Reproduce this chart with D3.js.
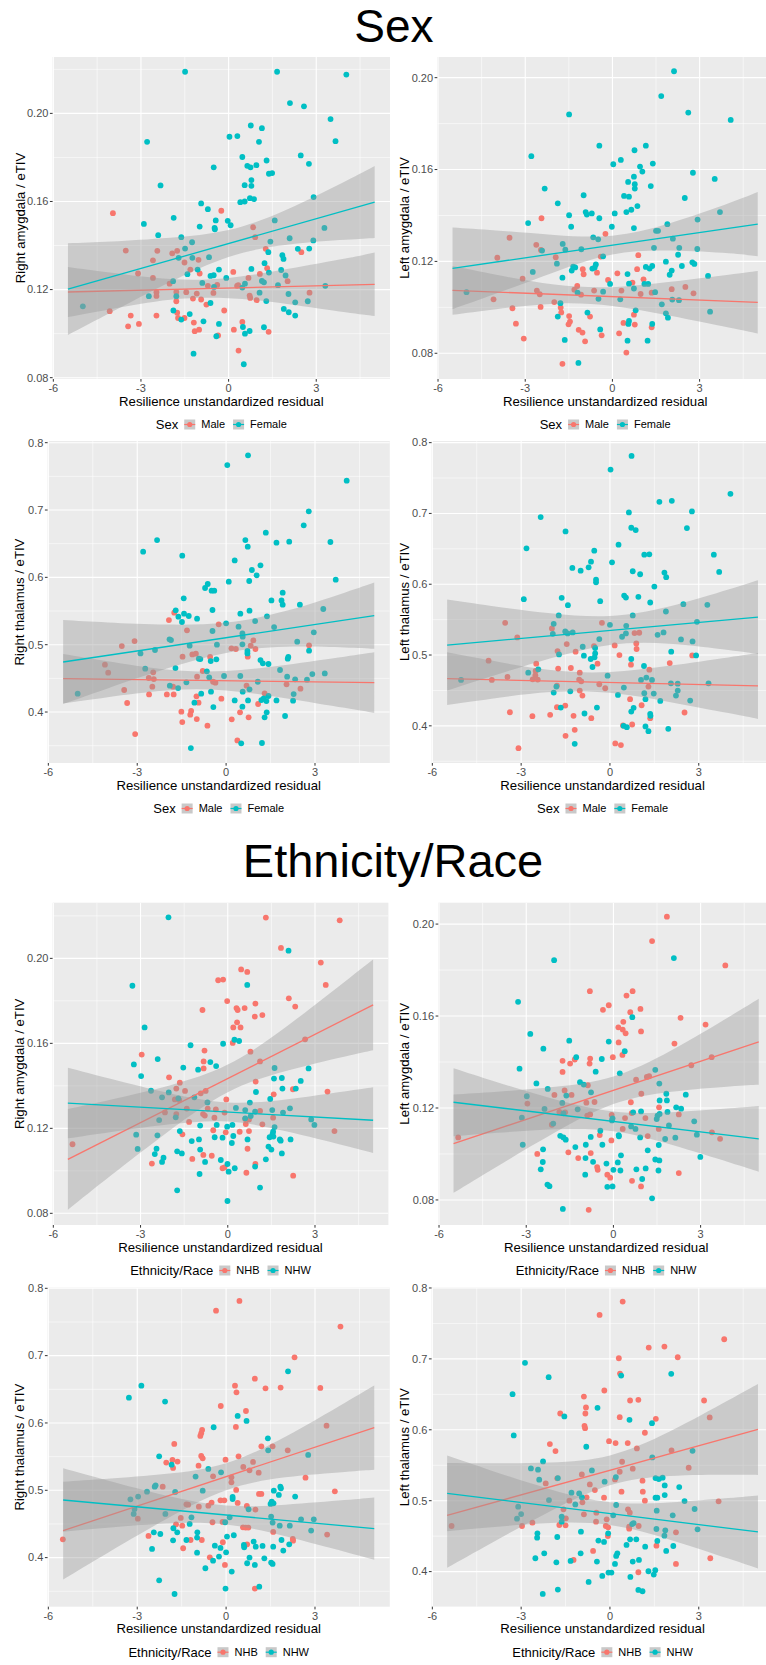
<!DOCTYPE html>
<html><head><meta charset="utf-8">
<script src="https://cdn.jsdelivr.net/npm/d3@7"></script>
<style>body{margin:0;background:#fff}svg{display:block;font-family:"Liberation Sans",Arial,sans-serif}</style>
</head><body><svg id="c" width="766" height="1665"></svg>
<script>
// ---------------- DATA ----------------
const sexGroups = ["Male", "Female"];
const raceGroups = ["NHB", "NHW"];
const xTicks = [-6, -3, 0, 3];
const xMinor = [-4.5, -1.5, 1.5, 4.5];
const xTickLabels = ["-6", "-3", "0", "3"];
const amygTicks = [0.08, 0.12, 0.16, 0.20];
const amygMinor = [0.06, 0.10, 0.14, 0.18, 0.22];
const amygTickLabels = ["0.08", "0.12", "0.16", "0.20"];
const thalTicks = [0.4, 0.5, 0.6, 0.7, 0.8];
const thalMinor = [0.35, 0.45, 0.55, 0.65, 0.75];
const thalTickLabels = ["0.4", "0.5", "0.6", "0.7", "0.8"];
const fitX = [-5.5, 5];
const bandX = [-5.5, -4, -2, 0, 2, 4, 5];

// Panel 1: Right amygdala, Sex
const p1Male = [[-3.96,0.1547],[-0.25,0.1558],[0.84,0.1483],[0.91,0.1438],[-3.52,0.1377],[-2.44,0.1376],[-1.93,0.1364],[-1.76,0.1376],[-2.59,0.1333],[-1.51,0.1323],[-1.03,0.1335],[1.27,0.1385],[1.32,0.1297],[2.49,0.1370],[-1.31,0.1291],[-3.10,0.1273],[-0.99,0.1273],[0.16,0.1280],[0.68,0.1253],[1.07,0.1271],[-2.59,0.1253],[-2.02,0.1227],[2.02,0.1238],[-0.71,0.1217],[-0.39,0.1221],[0.29,0.1217],[0.33,0.1220],[-1.79,0.1189],[-2.47,0.1188],[-2.47,0.1171],[-1.45,0.1188],[-1.09,0.1182],[-0.52,0.1185],[0.72,0.1173],[0.74,0.1162],[2.77,0.1186],[0.96,0.1152],[-1.22,0.1159],[-0.94,0.1155],[-1.79,0.1147],[-0.76,0.1132],[-0.15,0.1105],[-4.07,0.1102],[-1.76,0.1095],[-2.47,0.1082],[-3.35,0.1082],[-1.73,0.1071],[-1.51,0.1071],[0.47,0.1053],[-1.19,0.1050],[-3.44,0.1033],[-3.07,0.1044],[0.18,0.1018],[-1.16,0.1011],[-1.01,0.1018],[1.37,0.1008],[-0.36,0.0992],[0.34,0.0923]];
const p1Female = [[-1.49,0.2189],[1.66,0.2189],[4.03,0.2176],[2.10,0.2047],[2.58,0.2032],[3.49,0.1974],[-2.79,0.1871],[3.66,0.1874],[0.76,0.1945],[1.14,0.1933],[0.03,0.1894],[0.30,0.1897],[1.04,0.1871],[2.47,0.1809],[0.47,0.1802],[1.30,0.1786],[2.75,0.1771],[0.64,0.1762],[0.95,0.1765],[0.75,0.1755],[-0.51,0.1755],[1.38,0.1726],[1.49,0.1729],[0.78,0.1697],[0.55,0.1674],[0.78,0.1671],[-2.33,0.1673],[0.73,0.1615],[0.87,0.1611],[0.40,0.1597],[0.55,0.1600],[-0.94,0.1591],[2.91,0.1620],[-0.71,0.1565],[-1.88,0.1526],[-0.44,0.1514],[-2.90,0.1498],[-0.03,0.1512],[0.07,0.1492],[-0.48,0.1480],[-0.47,0.1474],[-0.99,0.1486],[3.28,0.1480],[-2.41,0.1447],[-1.62,0.1438],[1.58,0.1514],[2.09,0.1433],[-1.25,0.1415],[1.43,0.1418],[2.90,0.1423],[-1.49,0.1386],[2.76,0.1386],[2.37,0.1385],[1.36,0.1370],[-0.67,0.1347],[-1.71,0.1344],[1.84,0.1356],[1.88,0.1339],[-1.24,0.1344],[1.23,0.1320],[-0.33,0.1291],[-1.06,0.1291],[0.78,0.1294],[-1.41,0.1270],[1.80,0.1289],[1.38,0.1277],[-0.62,0.1262],[-0.51,0.1265],[-0.08,0.1253],[1.95,0.1264],[1.14,0.1239],[-1.90,0.1238],[0.56,0.1227],[1.21,0.1233],[-0.90,0.1230],[-0.50,0.1212],[0.47,0.1209],[1.69,0.1220],[3.31,0.1217],[1.06,0.1186],[2.05,0.1180],[-1.79,0.1170],[-2.73,0.1170],[-4.99,0.1124],[1.29,0.1148],[2.28,0.1142],[2.71,0.1147],[-0.62,0.1139],[1.89,0.1112],[2.06,0.1097],[2.28,0.1082],[-1.89,0.1105],[-1.33,0.1089],[-1.62,0.1064],[-0.86,0.1056],[-0.33,0.1044],[0.49,0.1030],[1.21,0.1029],[0.72,0.1012],[0.56,0.1000],[-0.42,0.0988],[-1.20,0.0909],[0.52,0.0861]];
const p1Fit = [[0.1189,0.1224],[0.1202,0.1597]];
const p1Lo = [[0.1075,0.1112,0.1154,0.1161,0.1135,0.1097,0.1080],[0.0994,0.1098,0.1234,0.1348,0.1404,0.1426,0.1434]];
const p1Hi = [[0.1303,0.1276,0.1248,0.1253,0.1293,0.1341,0.1368],[0.1410,0.1418,0.1435,0.1470,0.1564,0.1692,0.1761]];

// Panel 2: Left amygdala, Sex
const p2Male = [[-2.44,0.1388],[-0.24,0.1320],[-3.54,0.1303],[-2.62,0.1272],[-2.46,0.1250],[-3.96,0.1216],[-1.95,0.1218],[-0.40,0.1221],[0.89,0.1227],[-3.09,0.1125],[-1.02,0.1166],[-0.99,0.1144],[-0.53,0.1151],[0.85,0.1166],[0.17,0.1148],[-0.15,0.1119],[1.07,0.1122],[0.69,0.1108],[-1.21,0.1093],[-1.31,0.1077],[-2.60,0.1073],[-2.50,0.1057],[-1.08,0.1055],[-0.63,0.1073],[0.31,0.1073],[0.97,0.1058],[1.35,0.1064],[2.04,0.1079],[2.51,0.1089],[2.79,0.1061],[-4.09,0.1035],[-2.00,0.1023],[-2.47,0.1002],[-1.78,0.0999],[-3.44,0.0996],[-1.76,0.0978],[0.74,0.0968],[-1.49,0.0962],[-0.77,0.0960],[-1.46,0.0938],[-3.32,0.0929],[-1.51,0.0926],[0.38,0.0932],[0.77,0.0925],[-1.16,0.0902],[-1.03,0.0890],[0.23,0.0887],[1.35,0.0913],[-0.37,0.0878],[-3.05,0.0864],[-0.94,0.0852],[0.48,0.0803],[-1.72,0.0754]];
const p2Female = [[2.12,0.2028],[1.68,0.1920],[-1.49,0.1840],[2.61,0.1848],[4.07,0.1816],[-0.45,0.1704],[1.15,0.1704],[0.76,0.1684],[-2.79,0.1658],[0.29,0.1642],[0.03,0.1623],[0.95,0.1613],[1.39,0.1626],[1.03,0.1591],[2.77,0.1586],[0.74,0.1569],[0.54,0.1546],[0.77,0.1536],[0.77,0.1517],[1.32,0.1528],[3.52,0.1559],[-2.33,0.1517],[0.40,0.1485],[0.57,0.1482],[2.49,0.1476],[-0.99,0.1488],[-1.88,0.1453],[0.86,0.1441],[-0.92,0.1415],[-0.88,0.1404],[-0.71,0.1409],[0.48,0.1415],[0.65,0.1425],[0.08,0.1409],[-1.49,0.1401],[-0.45,0.1388],[3.70,0.1415],[-2.90,0.1367],[-1.42,0.1351],[-0.02,0.1351],[0.74,0.1345],[2.93,0.1382],[1.89,0.1362],[1.50,0.1333],[1.57,0.1333],[-0.66,0.1305],[-0.49,0.1296],[2.08,0.1299],[-1.71,0.1276],[1.43,0.1259],[2.30,0.1259],[-2.42,0.1247],[-1.62,0.1251],[-1.07,0.1253],[2.92,0.1254],[-0.32,0.1222],[2.26,0.1229],[1.84,0.1199],[-1.91,0.1190],[-0.57,0.1187],[2.75,0.1196],[-1.35,0.1177],[-1.28,0.1174],[-1.40,0.1160],[-0.61,0.1173],[1.37,0.1180],[1.15,0.1176],[1.28,0.1169],[2.39,0.1180],[2.82,0.1189],[-2.74,0.1154],[2.04,0.1160],[1.97,0.1142],[0.52,0.1145],[3.29,0.1137],[-1.72,0.1129],[-0.69,0.1169],[0.57,0.1103],[1.10,0.1102],[1.23,0.1102],[-0.08,0.1102],[0.74,0.1082],[-1.20,0.1064],[-0.32,0.1068],[-5.02,0.1066],[1.47,0.1066],[-0.48,0.1037],[0.27,0.1035],[2.06,0.1034],[2.29,0.1031],[-1.79,0.1018],[1.70,0.1013],[0.80,0.0987],[-0.86,0.0977],[-1.88,0.0960],[3.36,0.0981],[1.84,0.0974],[1.91,0.0955],[0.57,0.0941],[0.55,0.0928],[1.37,0.0928],[-0.42,0.0904],[-1.64,0.0858],[0.52,0.0855],[1.21,0.0855],[-1.17,0.0758]];
const p2Fit = [[0.1074,0.1022],[0.1170,0.1362]];
const p2Lo = [[0.0968,0.0992,0.1016,0.1006,0.0963,0.0912,0.0886],[0.0992,0.1060,0.1153,0.1230,0.1247,0.1235,0.1222]];
const p2Hi = [[0.1180,0.1142,0.1099,0.1088,0.1111,0.1142,0.1158],[0.1348,0.1335,0.1315,0.1312,0.1367,0.1453,0.1502]];

// Panel 3: Right thalamus, Sex
const p3Male = [[-1.75,0.5475],[-1.93,0.5366],[-0.25,0.5302],[-1.32,0.5213],[-3.09,0.5054],[-3.52,0.4980],[0.92,0.5064],[0.18,0.4946],[0.33,0.4936],[0.99,0.4936],[0.83,0.4985],[2.80,0.4990],[-1.14,0.4856],[-1.02,0.4866],[-1.47,0.4822],[0.73,0.4822],[-0.54,0.4817],[-4.09,0.4703],[-3.98,0.4584],[-0.79,0.4609],[-2.46,0.4589],[-2.61,0.4505],[-2.44,0.4490],[-0.98,0.4525],[-0.44,0.4450],[-0.36,0.4436],[-2.49,0.4376],[-1.79,0.4376],[0.69,0.4391],[2.04,0.4411],[2.51,0.4347],[-3.44,0.4327],[-2.60,0.4262],[-2.00,0.4262],[-1.77,0.4262],[-1.00,0.4233],[-0.16,0.4198],[1.30,0.4277],[-3.34,0.4134],[-0.93,0.4139],[1.08,0.4119],[-1.51,0.4005],[-1.18,0.4015],[-1.21,0.3960],[-0.99,0.3896],[0.19,0.3891],[0.76,0.3921],[0.47,0.3995],[-1.48,0.3851],[-0.63,0.3797],[-3.07,0.3673],[0.38,0.3579]];
const p3Female = [[0.74,0.7812],[0.04,0.7668],[4.07,0.7436],[2.79,0.6980],[2.62,0.6772],[1.34,0.6663],[-2.33,0.6554],[0.65,0.6554],[0.73,0.6455],[1.70,0.6515],[2.13,0.6530],[3.52,0.6525],[-2.80,0.6381],[-1.48,0.6322],[0.29,0.6252],[1.16,0.6178],[0.87,0.6109],[1.03,0.6030],[3.70,0.5965],[0.09,0.5936],[0.78,0.5946],[-0.62,0.5901],[-0.71,0.5842],[-0.49,0.5802],[-0.40,0.5802],[1.91,0.5772],[-1.43,0.5688],[1.53,0.5658],[1.87,0.5658],[1.91,0.5594],[2.49,0.5594],[-1.70,0.5510],[-0.46,0.5515],[0.79,0.5505],[3.28,0.5530],[-1.42,0.5460],[0.48,0.5460],[-1.61,0.5416],[-1.26,0.5426],[1.38,0.5421],[-0.98,0.5386],[-1.49,0.5337],[0.98,0.5351],[0.00,0.5317],[0.42,0.5267],[1.62,0.5262],[-0.46,0.5203],[0.55,0.5168],[2.96,0.5183],[0.56,0.5119],[-1.91,0.5079],[-1.86,0.5069],[2.40,0.5045],[-2.40,0.4921],[-1.23,0.4985],[-0.31,0.5000],[0.55,0.5005],[-2.89,0.4871],[0.72,0.4906],[0.72,0.4871],[2.80,0.4911],[-0.92,0.4792],[-0.87,0.4787],[-0.52,0.4757],[-0.33,0.4782],[1.16,0.4772],[1.24,0.4723],[1.43,0.4713],[2.10,0.4817],[2.08,0.4792],[-2.73,0.4644],[-1.71,0.4653],[-0.65,0.4604],[1.82,0.4624],[3.33,0.4574],[2.91,0.4564],[-0.07,0.4535],[-0.57,0.4515],[0.48,0.4535],[2.06,0.4525],[2.33,0.4485],[2.73,0.4480],[-1.34,0.4441],[1.07,0.4450],[-1.90,0.4391],[-1.62,0.4356],[0.79,0.4337],[0.56,0.4302],[-0.51,0.4302],[-0.84,0.4272],[-1.07,0.4139],[0.29,0.4173],[0.74,0.4173],[1.19,0.4178],[1.27,0.4203],[1.43,0.4238],[1.70,0.4173],[2.26,0.4168],[2.28,0.4267],[1.36,0.4163],[-0.43,0.4074],[0.55,0.4079],[1.37,0.3995],[1.30,0.3921],[1.99,0.3941],[0.51,0.3535],[1.21,0.3540],[-1.19,0.3465],[-5.01,0.4272]];
const p3Fit = [[0.4495,0.4436],[0.4743,0.5431]];
const p3Lo = [[0.4129,0.4221,0.4321,0.4320,0.4206,0.4062,0.3986],[0.4119,0.4351,0.4645,0.4878,0.4969,0.4957,0.4938]];
const p3Hi = [[0.4861,0.4753,0.4631,0.4608,0.4700,0.4822,0.4886],[0.5367,0.5331,0.5299,0.5328,0.5499,0.5773,0.5924]];

// Panel 4: Left thalamus, Sex
const p4Male = [[-3.54,0.5455],[-0.27,0.5455],[-1.96,0.5376],[-3.13,0.5249],[-1.46,0.5155],[0.16,0.5136],[-1.77,0.5056],[-1.16,0.5047],[0.32,0.5000],[0.89,0.5164],[0.99,0.5315],[0.83,0.5310],[0.90,0.5085],[2.78,0.4995],[-4.10,0.4920],[-2.49,0.4878],[-0.42,0.4878],[-1.75,0.4808],[-1.32,0.4817],[-0.54,0.5127],[0.71,0.4864],[2.02,0.4887],[1.33,0.4793],[-2.51,0.4775],[-1.02,0.4751],[-2.52,0.4714],[-3.99,0.4648],[-3.46,0.4690],[-2.61,0.4657],[-2.44,0.4653],[-1.04,0.4653],[-0.97,0.4629],[-1.79,0.4568],[-0.36,0.4587],[-0.16,0.4531],[1.30,0.4554],[-1.02,0.4498],[-0.93,0.4427],[0.68,0.4376],[-1.79,0.4263],[-1.51,0.4286],[1.07,0.4291],[-3.38,0.4192],[-2.62,0.4136],[-2.02,0.4155],[-1.23,0.4141],[-0.63,0.4108],[1.36,0.4108],[2.52,0.4188],[0.44,0.4005],[0.75,0.4019],[-1.19,0.3944],[-1.50,0.3859],[0.18,0.3751],[0.37,0.3728],[-3.09,0.3685]];
const p4Female = [[0.73,0.7812],[0.02,0.7620],[4.07,0.7277],[1.67,0.7164],[2.09,0.7178],[2.77,0.7028],[0.64,0.7014],[-2.34,0.6948],[0.72,0.6798],[0.87,0.6765],[2.60,0.6793],[-1.50,0.6746],[0.29,0.6559],[-2.82,0.6507],[-0.53,0.6474],[1.16,0.6418],[1.33,0.6423],[3.51,0.6418],[-0.64,0.6319],[0.07,0.6310],[-0.72,0.6239],[-1.27,0.6230],[-0.99,0.6192],[0.77,0.6183],[1.84,0.6164],[3.69,0.6174],[1.02,0.6141],[1.90,0.6099],[-0.47,0.6066],[-0.47,0.6028],[1.50,0.5967],[-2.91,0.5789],[-1.63,0.5808],[0.48,0.5840],[0.54,0.5812],[0.96,0.5822],[-0.33,0.5761],[-1.42,0.5704],[1.36,0.5742],[2.48,0.5718],[3.29,0.5709],[-1.73,0.5559],[0.77,0.5559],[1.89,0.5615],[2.94,0.5469],[-1.90,0.5441],[0.00,0.5427],[0.55,0.5413],[-1.51,0.5333],[-1.26,0.5319],[-1.43,0.5305],[-1.93,0.5300],[0.54,0.5305],[0.41,0.5258],[1.61,0.5286],[1.81,0.5319],[-0.36,0.5225],[2.40,0.5221],[2.79,0.5192],[-0.92,0.5117],[-0.50,0.5099],[-0.88,0.4991],[-0.50,0.5023],[-0.52,0.4967],[-0.65,0.4944],[2.91,0.4995],[0.72,0.4944],[2.07,0.5047],[-1.72,0.5009],[-0.59,0.4831],[1.15,0.4845],[-2.42,0.4798],[-2.76,0.4751],[-0.08,0.4709],[-5.03,0.4648],[1.05,0.4648],[1.23,0.4681],[1.42,0.4648],[2.06,0.4601],[2.29,0.4596],[3.33,0.4601],[-1.81,0.4554],[0.47,0.4540],[2.29,0.4498],[-1.90,0.4469],[-1.34,0.4488],[0.27,0.4437],[1.16,0.4460],[1.48,0.4455],[2.23,0.4427],[1.20,0.4376],[1.70,0.4352],[2.71,0.4357],[0.80,0.4254],[0.72,0.4202],[-1.66,0.4258],[-0.44,0.4258],[-0.86,0.4174],[1.36,0.4169],[1.37,0.4141],[1.20,0.3991],[1.30,0.3925],[0.46,0.4000],[0.57,0.3981],[1.97,0.3958],[-1.19,0.3746]];
const p4Fit = [[0.4667,0.4563],[0.5141,0.5535]];
const p4Lo = [[0.4294,0.4383,0.4477,0.4467,0.4338,0.4180,0.4098],[0.4498,0.4700,0.4955,0.5143,0.5160,0.5070,0.5014]];
const p4Hi = [[0.5040,0.4921,0.4787,0.4760,0.4848,0.4966,0.5028],[0.5784,0.5694,0.5589,0.5551,0.5684,0.5924,0.6056]];

// Panel 5: Right amygdala, Ethnicity/Race
const p5NHB = [[1.31,0.2192],[3.85,0.2179],[1.83,0.2049],[3.20,0.1980],[0.46,0.1948],[0.67,0.1936],[-0.33,0.1897],[-0.16,0.1900],[3.37,0.1875],[2.10,0.1812],[2.32,0.1773],[-0.02,0.1799],[0.95,0.1787],[-0.87,0.1757],[0.30,0.1766],[0.34,0.1757],[0.58,0.1766],[0.93,0.1726],[1.19,0.1733],[0.32,0.1699],[0.19,0.1675],[0.44,0.1675],[0.17,0.1602],[2.66,0.1619],[-0.80,0.1566],[0.78,0.1561],[-2.96,0.1547],[-0.83,0.1515],[1.11,0.1515],[-0.83,0.1482],[-2.02,0.1440],[-1.65,0.1415],[0.96,0.1420],[-0.05,0.1336],[1.58,0.1360],[3.43,0.1373],[2.24,0.1384],[-1.77,0.1387],[-1.47,0.1376],[-0.76,0.1376],[-0.93,0.1365],[-1.82,0.1336],[-1.67,0.1333],[-1.41,0.1293],[-0.69,0.1293],[-0.41,0.1289],[-2.16,0.1275],[-1.77,0.1267],[-0.85,0.1267],[-0.11,0.1274],[1.11,0.1282],[1.56,0.1250],[-0.79,0.1260],[-0.46,0.1250],[-1.33,0.1230],[0.60,0.1244],[0.73,0.1241],[0.62,0.1220],[1.19,0.1219],[-1.56,0.1172],[-0.50,0.1191],[-0.07,0.1181],[0.41,0.1184],[0.73,0.1187],[3.67,0.1187],[-5.34,0.1125],[0.68,0.1104],[-0.84,0.1075],[-0.55,0.1071],[-1.22,0.1056],[-2.61,0.1034],[-0.18,0.1012],[-0.11,0.1016],[0.95,0.1032],[0.64,0.0991],[2.25,0.0977]];
const p5NHW = [[-2.04,0.2193],[2.09,0.2036],[-3.28,0.1871],[0.67,0.1875],[-2.86,0.1675],[-0.16,0.1598],[0.23,0.1617],[0.39,0.1611],[-1.28,0.1591],[-3.23,0.1501],[-2.41,0.1526],[-0.60,0.1512],[-0.40,0.1493],[-1.53,0.1486],[-1.02,0.1476],[1.61,0.1484],[2.78,0.1482],[-2.98,0.1446],[1.59,0.1434],[1.86,0.1437],[2.51,0.1423],[-2.64,0.1377],[-2.03,0.1369],[0.97,0.1371],[1.88,0.1387],[2.34,0.1387],[-1.15,0.1346],[-2.26,0.1346],[1.46,0.1338],[-1.70,0.1341],[-0.70,0.1322],[0.76,0.1321],[0.28,0.1296],[0.60,0.1286],[2.14,0.1294],[0.94,0.1278],[1.53,0.1286],[1.90,0.1274],[-2.36,0.1239],[0.60,0.1247],[0.79,0.1258],[2.87,0.1242],[2.98,0.1216],[-0.95,0.1213],[-0.38,0.1216],[-1.79,0.1252],[-0.02,0.1208],[0.16,0.1216],[1.61,0.1206],[-1.65,0.1187],[-3.15,0.1170],[-2.42,0.1167],[1.56,0.1184],[1.54,0.1173],[1.57,0.1161],[-1.24,0.1140],[-0.99,0.1148],[-0.45,0.1158],[-0.18,0.1156],[0.19,0.1164],[0.68,0.1148],[1.44,0.1158],[1.79,0.1148],[2.16,0.1148],[1.82,0.1142],[0.14,0.1131],[-3.10,0.1103],[-2.45,0.1104],[-0.95,0.1100],[1.40,0.1114],[1.50,0.1100],[-1.74,0.1092],[-1.58,0.1082],[-2.51,0.1079],[1.86,0.1082],[-2.21,0.1062],[-2.26,0.1042],[-0.78,0.1042],[-0.24,0.1051],[1.31,0.1054],[-0.01,0.1032],[0.24,0.1012],[0.03,0.0996],[0.94,0.1020],[-0.97,0.0985],[-1.74,0.0908],[1.11,0.0921],[-0.01,0.0858]];
const p5Fit = [[0.1054,0.1781],[0.1319,0.1238]];
const p5Lo = [[0.0817,0.0980,0.1190,0.1370,0.1470,0.1537,0.1567],[0.1153,0.1183,0.1219,0.1232,0.1186,0.1119,0.1084]];
const p5Hi = [[0.1291,0.1336,0.1402,0.1500,0.1677,0.1888,0.1995],[0.1485,0.1432,0.1365,0.1322,0.1336,0.1373,0.1393]];

// Panel 6: Left amygdala, Ethnicity/Race
const p6NHB = [[1.84,0.2032],[1.33,0.1926],[3.85,0.1820],[-0.81,0.1708],[0.66,0.1708],[0.45,0.1689],[-0.36,0.1627],[-0.16,0.1647],[0.93,0.1631],[0.58,0.1617],[2.31,0.1592],[0.34,0.1575],[3.17,0.1563],[0.17,0.1551],[0.32,0.1541],[0.42,0.1525],[0.95,0.1533],[0.18,0.1485],[2.10,0.1480],[0.31,0.1431],[-0.80,0.1415],[-0.82,0.1393],[-1.75,0.1405],[-1.33,0.1411],[-1.49,0.1393],[-0.02,0.1421],[3.38,0.1421],[2.68,0.1386],[-1.75,0.1357],[0.78,0.1323],[1.15,0.1335],[1.23,0.1338],[-0.88,0.1299],[-1.68,0.1276],[0.96,0.1262],[-2.03,0.1257],[-1.44,0.1257],[0.60,0.1225],[-2.96,0.1219],[-0.93,0.1223],[-0.65,0.1226],[1.57,0.1203],[-1.66,0.1181],[-0.90,0.1167],[-0.80,0.1172],[-0.06,0.1170],[0.63,0.1178],[0.40,0.1156],[2.25,0.1172],[1.10,0.1156],[0.32,0.1109],[1.56,0.1109],[-1.86,0.1183],[-2.12,0.1127],[-0.47,0.1082],[1.18,0.1078],[3.39,0.1094],[3.67,0.1066],[-5.34,0.1072],[-0.07,0.1059],[-1.55,0.1007],[-2.62,0.1000],[-0.78,0.1004],[-1.21,0.0982],[-0.54,0.0931],[-0.56,0.0943],[-0.21,0.0910],[-0.11,0.0897],[2.25,0.0917],[0.64,0.0883],[0.95,0.0859],[-0.85,0.0757]];
const p6NHW = [[-2.04,0.1843],[2.08,0.1852],[-3.28,0.1662],[0.65,0.1595],[-2.86,0.1522],[-1.52,0.1493],[-2.41,0.1458],[-0.16,0.1489],[0.39,0.1447],[-1.28,0.1421],[-0.40,0.1413],[-0.61,0.1358],[0.22,0.1351],[-3.23,0.1371],[1.44,0.1366],[-2.65,0.1307],[-1.15,0.1312],[-1.02,0.1302],[1.58,0.1306],[-2.26,0.1283],[-0.77,0.1268],[1.82,0.1262],[2.49,0.1258],[-2.98,0.1251],[-1.62,0.1254],[-1.76,0.1222],[1.59,0.1233],[1.84,0.1233],[-2.37,0.1196],[-1.23,0.1194],[2.16,0.1203],[2.33,0.1197],[1.86,0.1183],[0.68,0.1181],[0.95,0.1185],[1.59,0.1174],[-1.72,0.1177],[-3.15,0.1158],[1.49,0.1152],[-0.05,0.1146],[-0.03,0.1155],[2.78,0.1142],[1.52,0.1167],[-2.07,0.1132],[0.61,0.1120],[0.76,0.1109],[1.91,0.1124],[-0.45,0.1101],[2.87,0.1084],[0.18,0.1082],[0.19,0.1077],[1.78,0.1065],[2.13,0.1071],[-0.78,0.1074],[-1.83,0.1079],[-1.72,0.1072],[-1.64,0.1062],[0.92,0.1072],[1.18,0.1016],[1.56,0.1039],[-3.12,0.1040],[-1.31,0.1030],[-0.95,0.1040],[-0.38,0.1040],[-2.42,0.1020],[0.26,0.0994],[-0.96,0.0982],[-0.70,0.0966],[2.99,0.0987],[-2.43,0.0965],[-0.24,0.0958],[0.15,0.0963],[1.44,0.0976],[1.58,0.0972],[1.55,0.0928],[-2.50,0.0933],[0.00,0.0931],[0.24,0.0928],[0.79,0.0933],[1.11,0.0937],[-0.97,0.0910],[0.99,0.0891],[-2.27,0.0867],[-2.20,0.0860],[-0.21,0.0857],[-0.03,0.0859],[1.33,0.0807],[-1.74,0.0761]];
const p6Fit = [[0.1045,0.1488],[0.1225,0.1066]];
const p6Lo = [[0.0831,0.0946,0.1094,0.1217,0.1271,0.1294,0.1301],[0.1077,0.1092,0.1107,0.1099,0.1040,0.0963,0.0923]];
const p6Hi = [[0.1259,0.1271,0.1292,0.1337,0.1451,0.1598,0.1675],[0.1373,0.1312,0.1237,0.1185,0.1182,0.1199,0.1209]];

// Panel 7: Right thalamus, Ethnicity/Race
const p7NHB = [[0.45,0.7812],[-0.34,0.7668],[3.86,0.7431],[2.31,0.6975],[0.97,0.6658],[1.33,0.6515],[1.84,0.6525],[3.18,0.6520],[0.30,0.6554],[0.35,0.6455],[-0.18,0.6252],[0.67,0.6178],[0.33,0.5941],[-0.81,0.5896],[-0.84,0.5847],[-0.87,0.5807],[3.39,0.5960],[-1.75,0.5688],[1.19,0.5653],[1.57,0.5653],[2.08,0.5594],[-0.84,0.5510],[-0.79,0.5475],[0.42,0.5505],[-2.02,0.5411],[-1.81,0.5450],[-1.64,0.5426],[-1.79,0.5332],[0.91,0.5421],[-0.93,0.5366],[-0.02,0.5455],[0.58,0.5347],[0.79,0.5297],[1.10,0.5262],[-0.44,0.5208],[0.18,0.5193],[0.18,0.5119],[2.68,0.5188],[-2.14,0.5054],[0.34,0.5005],[3.67,0.4985],[1.11,0.4946],[1.19,0.4946],[-0.19,0.4851],[-0.06,0.4851],[0.39,0.4812],[-0.92,0.4757],[-0.60,0.4772],[-0.49,0.4817],[0.70,0.4767],[0.99,0.4713],[-1.28,0.4787],[-1.34,0.4792],[-1.53,0.4589],[-2.98,0.4579],[-0.46,0.4525],[-0.12,0.4530],[-1.69,0.4495],[-1.48,0.4475],[0.57,0.4450],[0.66,0.4446],[0.75,0.4446],[-2.62,0.4322],[1.59,0.4381],[3.41,0.4342],[2.25,0.4277],[2.26,0.4252],[-0.82,0.4262],[-1.20,0.4262],[0.71,0.4198],[-0.11,0.4228],[-1.45,0.4139],[-0.55,0.4005],[-0.04,0.3891],[0.97,0.3540],[-5.51,0.4272]];
const p7NHW = [[-3.28,0.6376],[-2.86,0.6554],[-2.06,0.6317],[2.09,0.6767],[0.39,0.6104],[0.69,0.6030],[-0.42,0.5936],[1.41,0.5772],[1.42,0.5594],[2.77,0.5525],[-2.26,0.5505],[-1.84,0.5381],[-0.60,0.5317],[-1.03,0.5203],[-0.17,0.5267],[-2.38,0.5074],[-2.41,0.5054],[-2.67,0.4980],[-1.72,0.4975],[-0.79,0.4995],[1.83,0.5054],[1.85,0.5030],[1.61,0.4995],[1.78,0.4931],[2.33,0.4906],[0.22,0.4901],[0.22,0.4871],[-2.97,0.4906],[-3.23,0.4866],[1.54,0.4832],[1.60,0.4807],[1.50,0.4797],[-3.09,0.4723],[-3.12,0.4649],[-2.05,0.4649],[0.76,0.4718],[-1.17,0.4599],[0.12,0.4599],[1.52,0.4609],[2.53,0.4569],[2.96,0.4569],[-1.23,0.4500],[-0.03,0.4525],[1.57,0.4520],[1.81,0.4475],[2.15,0.4475],[-1.78,0.4436],[-1.65,0.4376],[-2.44,0.4376],[-2.22,0.4351],[-0.97,0.4376],[2.87,0.4401],[-0.98,0.4297],[-1.79,0.4257],[-1.34,0.4262],[1.87,0.4262],[0.03,0.4312],[0.26,0.4332],[-0.38,0.4178],[0.60,0.4188],[0.61,0.4153],[0.93,0.4238],[1.00,0.4163],[1.23,0.4173],[1.59,0.4163],[2.13,0.4198],[-2.50,0.4129],[1.93,0.4104],[-0.98,0.4074],[-0.19,0.4144],[0.00,0.4079],[0.79,0.4000],[1.29,0.3990],[-0.44,0.3955],[-0.24,0.4015],[0.71,0.3916],[0.97,0.3891],[1.52,0.3926],[1.57,0.3906],[-0.70,0.3842],[0.19,0.3792],[-2.26,0.3663],[-0.02,0.3540],[1.12,0.3569],[-1.74,0.3460]];
const p7Fit = [[0.4401,0.5931],[0.4856,0.4431]];
const p7Lo = [[0.3676,0.4070,0.4578,0.5001,0.5193,0.5273,0.5305],[0.4386,0.4444,0.4508,0.4492,0.4318,0.4088,0.3968]];
const p7Hi = [[0.5126,0.5170,0.5244,0.5403,0.5795,0.6297,0.6557],[0.5326,0.5146,0.4920,0.4774,0.4786,0.4854,0.4894]];

// Panel 8: Left thalamus, Ethnicity/Race
const p8NHB = [[0.43,0.7808],[-0.35,0.7620],[3.86,0.7277],[1.31,0.7160],[1.84,0.7174],[2.29,0.7023],[0.30,0.7009],[0.34,0.6793],[-0.19,0.6554],[-0.88,0.6469],[0.68,0.6413],[0.96,0.6423],[3.18,0.6413],[-0.81,0.6315],[-0.83,0.6230],[-1.68,0.6230],[0.33,0.6178],[1.55,0.6155],[3.37,0.6174],[-0.86,0.6056],[-0.84,0.6023],[1.18,0.5958],[-0.03,0.5840],[0.19,0.5812],[0.60,0.5812],[-2.03,0.5798],[-1.84,0.5700],[0.91,0.5737],[2.08,0.5709],[0.41,0.5549],[0.33,0.5408],[0.77,0.5451],[2.66,0.5465],[-0.95,0.5371],[0.17,0.5300],[-1.78,0.5315],[-2.17,0.5244],[-0.68,0.5230],[1.10,0.5282],[-0.51,0.5150],[0.39,0.5127],[1.11,0.5127],[-1.37,0.5000],[-0.20,0.5042],[1.18,0.5000],[3.67,0.4991],[-0.79,0.5047],[-0.93,0.4977],[-1.57,0.4878],[0.61,0.4878],[0.67,0.4831],[-1.49,0.4751],[-0.46,0.4831],[-0.88,0.4808],[-0.11,0.4737],[0.65,0.4634],[0.65,0.4606],[0.97,0.4643],[-1.71,0.4657],[-1.50,0.4653],[-2.97,0.4643],[-2.62,0.4690],[-0.47,0.4704],[-0.14,0.4643],[-0.06,0.4624],[2.23,0.4554],[1.57,0.4366],[-0.57,0.4291],[-1.23,0.4164],[0.96,0.3991],[2.23,0.4108],[3.39,0.4188],[-5.35,0.4643],[-0.07,0.4502]];
const p8NHW = [[-2.87,0.6944],[-2.07,0.6742],[0.38,0.6765],[2.07,0.6789],[-3.29,0.6502],[-0.42,0.6310],[0.66,0.6141],[-1.54,0.6188],[1.42,0.6094],[-3.25,0.5920],[-0.80,0.5761],[2.79,0.5704],[1.43,0.5610],[-2.26,0.5554],[-2.67,0.5455],[-2.43,0.5437],[-0.61,0.5427],[-2.39,0.5296],[-1.76,0.5319],[1.54,0.5319],[1.65,0.5305],[1.78,0.5324],[0.20,0.5333],[-0.18,0.5268],[1.85,0.5216],[2.34,0.5192],[-1.30,0.5113],[-1.04,0.5103],[-0.95,0.5047],[-1.17,0.4948],[1.85,0.5080],[1.54,0.5042],[1.60,0.5042],[2.52,0.4995],[-2.06,0.5009],[-3.10,0.4915],[2.86,0.4883],[0.21,0.4939],[0.75,0.4671],[1.58,0.4859],[2.12,0.4793],[-3.00,0.4812],[-3.14,0.4746],[-1.63,0.4775],[-1.63,0.4704],[0.11,0.4793],[0.80,0.4685],[1.57,0.4601],[1.87,0.4582],[2.96,0.4596],[-2.45,0.4540],[-0.06,0.4540],[0.68,0.4455],[0.89,0.4455],[-0.98,0.4563],[-2.46,0.4479],[-1.78,0.4488],[1.84,0.4507],[1.60,0.4432],[-0.39,0.4437],[-0.20,0.4418],[0.56,0.4376],[2.14,0.4361],[1.19,0.4352],[-2.22,0.4258],[-0.99,0.4258],[0.25,0.4258],[0.21,0.4221],[-2.52,0.4188],[1.90,0.4291],[-1.81,0.4131],[-1.33,0.4150],[-0.44,0.4141],[0.77,0.4141],[0.17,0.4108],[0.98,0.4164],[-0.05,0.3986],[0.05,0.3986],[1.30,0.4005],[1.53,0.4019],[1.48,0.3958],[-0.26,0.3939],[0.69,0.3925],[-0.72,0.3854],[0.96,0.3742],[1.10,0.3723],[-1.76,0.3746],[-2.27,0.3685]];
const p8Fit = [[0.4793,0.6005],[0.5103,0.4559]];
const p8Lo = [[0.4054,0.4404,0.4855,0.5217,0.5347,0.5365,0.5364],[0.4570,0.4626,0.4685,0.4657,0.4454,0.4184,0.4043]];
const p8Hi = [[0.5532,0.5528,0.5539,0.5639,0.5971,0.6415,0.6646],[0.5636,0.5424,0.5159,0.4979,0.4976,0.5038,0.5075]];

// ---------------- DRAWING ----------------
const COLORS = ["#F8766D", "#00BFC4"];
const svg = d3.select("#c");
const xDomain = [-6.025, 5.525];

const panels = [
  {box:{l:52.6,t:57,r:390,b:379}, yt:20, yDom:[0.0794,0.2256], ticks:amygTicks, minor:amygMinor, labels:amygTickLabels, yTitle:"Right amygdala / eTIV", leg:"Sex", groups:sexGroups, pts:[p1Male,p1Female], fit:p1Fit, lo:p1Lo, hi:p1Hi},
  {box:{l:437.3,t:57,r:773,b:379}, yt:404, yDom:[0.0688,0.2090], ticks:amygTicks, minor:amygMinor, labels:amygTickLabels, yTitle:"Left amygdala / eTIV", leg:"Sex", groups:sexGroups, pts:[p2Male,p2Female], fit:p2Fit, lo:p2Lo, hi:p2Hi},
  {box:{l:47.6,t:441,r:389.8,b:763}, yt:19.3, yDom:[0.3243,0.8025], ticks:thalTicks, minor:thalMinor, labels:thalTickLabels, yTitle:"Right thalamus / eTIV", leg:"Sex", groups:sexGroups, pts:[p3Male,p3Female], fit:p3Fit, lo:p3Lo, hi:p3Hi},
  {box:{l:431.6,t:441,r:773.5,b:763}, yt:404, yDom:[0.3475,0.8023], ticks:thalTicks, minor:thalMinor, labels:thalTickLabels, yTitle:"Left thalamus / eTIV", leg:"Sex", groups:sexGroups, pts:[p4Male,p4Female], fit:p4Fit, lo:p4Lo, hi:p4Hi},
  {box:{l:52.6,t:902.7,r:388.4,b:1225}, yt:19, yDom:[0.0745,0.2262], ticks:amygTicks, minor:amygMinor, labels:amygTickLabels, yTitle:"Right amygdala / eTIV", leg:"Ethnicity/Race", groups:raceGroups, pts:[p5NHB,p5NHW], fit:p5Fit, lo:p5Lo, hi:p5Hi},
  {box:{l:438.3,t:902.7,r:774,b:1225}, yt:404, yDom:[0.0691,0.2093], ticks:amygTicks, minor:amygMinor, labels:amygTickLabels, yTitle:"Left amygdala / eTIV", leg:"Ethnicity/Race", groups:raceGroups, pts:[p6NHB,p6NHW], fit:p6Fit, lo:p6Lo, hi:p6Hi},
  {box:{l:47.6,t:1287.7,r:389.8,b:1606.7}, yt:19, yDom:[0.3271,0.8009], ticks:thalTicks, minor:thalMinor, labels:thalTickLabels, yTitle:"Right thalamus / eTIV", leg:"Ethnicity/Race", groups:raceGroups, pts:[p7NHB,p7NHW], fit:p7Fit, lo:p7Lo, hi:p7Hi},
  {box:{l:431.6,t:1287.7,r:773.5,b:1606.7}, yt:404, yDom:[0.3505,0.8004], ticks:thalTicks, minor:thalMinor, labels:thalTickLabels, yTitle:"Left thalamus / eTIV", leg:"Ethnicity/Race", groups:raceGroups, pts:[p8NHB,p8NHW], fit:p8Fit, lo:p8Lo, hi:p8Hi}
];

panels.forEach((p, pi) => {
  const b = p.box;
  const x = d3.scaleLinear().domain(xDomain).range([b.l, b.r]);
  const y = d3.scaleLinear().domain(p.yDom).range([b.b, b.t]);
  const g = svg.append("g");
  const clipId = "clip" + pi;
  g.append("clipPath").attr("id", clipId).append("rect")
    .attr("x", b.l).attr("y", b.t).attr("width", b.r - b.l).attr("height", b.b - b.t);
  g.append("rect").attr("x", b.l).attr("y", b.t).attr("width", b.r - b.l).attr("height", b.b - b.t).attr("fill", "#EBEBEB");
  const inner = g.append("g").attr("clip-path", `url(#${clipId})`);
  inner.selectAll(".gxm").data(xMinor).join("line").attr("x1", d => x(d)).attr("x2", d => x(d)).attr("y1", b.t).attr("y2", b.b).attr("stroke", "#fff").attr("stroke-width", 0.55);
  inner.selectAll(".gym").data(p.minor).join("line").attr("y1", d => y(d)).attr("y2", d => y(d)).attr("x1", b.l).attr("x2", b.r).attr("stroke", "#fff").attr("stroke-width", 0.55);
  inner.selectAll(".gx").data(xTicks).join("line").attr("x1", d => x(d)).attr("x2", d => x(d)).attr("y1", b.t).attr("y2", b.b).attr("stroke", "#fff").attr("stroke-width", 1.1);
  inner.selectAll(".gy").data(p.ticks).join("line").attr("y1", d => y(d)).attr("y2", d => y(d)).attr("x1", b.l).attr("x2", b.r).attr("stroke", "#fff").attr("stroke-width", 1.1);
  p.pts.forEach((arr, gi) => {
    inner.append("g").selectAll("circle").data(arr).join("circle")
      .attr("cx", d => x(d[0])).attr("cy", d => y(d[1])).attr("r", 2.9).attr("fill", COLORS[gi]);
  });
  p.fit.forEach((f, gi) => {
    const band = bandX.map((bx, i) => ({x: bx, lo: p.lo[gi][i], hi: p.hi[gi][i]}));
    inner.append("path").datum(band)
      .attr("d", d3.area().x(d => x(d.x)).y0(d => y(d.lo)).y1(d => y(d.hi)).curve(d3.curveNatural))
      .attr("fill", "#999999").attr("fill-opacity", 0.4);
    inner.append("path").datum(fitX.map((fx, i) => [fx, f[i]]))
      .attr("d", d3.line().x(d => x(d[0])).y(d => y(d[1])))
      .attr("stroke", COLORS[gi]).attr("stroke-width", 1.3).attr("fill", "none");
  });
  p.ticks.forEach((t, i) => {
    g.append("line").attr("x1", b.l - 2.7).attr("x2", b.l).attr("y1", y(t)).attr("y2", y(t)).attr("stroke", "#333").attr("stroke-width", 1);
    g.append("text").attr("x", b.l - 4.2).attr("y", y(t)).attr("dy", "0.35em").attr("text-anchor", "end")
      .attr("font-size", 11).attr("fill", "#4D4D4D").text(p.labels[i]);
  });
  xTicks.forEach((t, i) => {
    g.append("line").attr("x1", x(t)).attr("x2", x(t)).attr("y1", b.b).attr("y2", b.b + 2.7).attr("stroke", "#333").attr("stroke-width", 1);
    g.append("text").attr("x", x(t)).attr("y", b.b + 9).attr("dy", "0.35em").attr("text-anchor", "middle")
      .attr("font-size", 11).attr("fill", "#4D4D4D").text(xTickLabels[i]);
  });
  const cx = (b.l + b.r) / 2;
  const cy = (b.t + b.b) / 2;
  g.append("text").attr("x", cx).attr("y", b.b + 22).attr("dy", "0.35em").attr("text-anchor", "middle")
    .attr("font-size", 13.2).attr("fill", "#000").text("Resilience unstandardized residual");
  g.append("text").attr("transform", `translate(${p.yt},${cy}) rotate(-90)`).attr("dy", "0.35em").attr("text-anchor", "middle")
    .attr("font-size", 13.2).attr("fill", "#000").text(p.yTitle);
  const ly = b.b + 45.5;
  const lg = g.append("g");
  let lx = 0;
  const tt = lg.append("text").attr("x", lx).attr("y", ly).attr("dy", "0.35em").attr("font-size", 13).text(p.leg);
  lx += tt.node().getComputedTextLength() + 6;
  p.groups.forEach((lab, gi) => {
    lg.append("rect").attr("x", lx).attr("y", ly - 5).attr("width", 11).attr("height", 10).attr("fill", "#C9C9C9");
    lg.append("line").attr("x1", lx).attr("x2", lx + 11).attr("y1", ly).attr("y2", ly).attr("stroke", COLORS[gi]).attr("stroke-width", 1.2);
    lg.append("circle").attr("cx", lx + 5.5).attr("cy", ly).attr("r", 2.6).attr("fill", COLORS[gi]);
    lx += 11 + 6;
    const lt = lg.append("text").attr("x", lx).attr("y", ly).attr("dy", "0.35em").attr("font-size", 11).attr("fill", "#000").text(lab);
    lx += lt.node().getComputedTextLength() + (gi < p.groups.length - 1 ? 8 : 0);
  });
  lg.attr("transform", `translate(${cx - lx / 2},0)`);
});

svg.append("text").attr("x", 394).attr("y", 42).attr("text-anchor", "middle").attr("font-size", 46).attr("fill", "#000").text("Sex");
svg.append("text").attr("x", 393).attr("y", 877).attr("text-anchor", "middle").attr("font-size", 47).attr("fill", "#000").text("Ethnicity/Race");
</script>
</body></html>
